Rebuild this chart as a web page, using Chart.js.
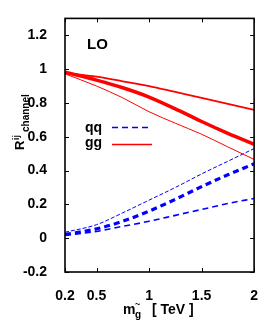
<!DOCTYPE html>
<html>
<head>
<meta charset="utf-8">
<script src="https://cdn.jsdelivr.net/npm/chart.js@4.4.1/dist/chart.umd.min.js"></script>
<style>
html, body { margin: 0; padding: 0; background: #fff; }
canvas { display: block; }
</style>
</head>
<body>
<canvas id="ratio-chart" width="266" height="335"></canvas>
<script>
// gluino mass points (TeV)
var masses = [0.2, 0.5, 0.75, 1, 1.25, 1.5, 1.75, 2];

// gg channel, three curves (upper / central / lower)
var ggUpper = [0.978, 0.955, 0.928, 0.900, 0.865, 0.830, 0.795, 0.759];
var ggCentral = [0.982, 0.935, 0.890, 0.835, 0.765, 0.690, 0.620, 0.555];
var ggLower = [0.972, 0.900, 0.830, 0.748, 0.680, 0.615, 0.540, 0.466];

// qq channel
var qqUpper = [0.035, 0.080, 0.150, 0.225, 0.300, 0.380, 0.455, 0.530];
var qqCentral = [0.022, 0.055, 0.100, 0.160, 0.230, 0.305, 0.375, 0.440];
var qqLower = [0.016, 0.040, 0.070, 0.100, 0.135, 0.170, 0.205, 0.235];

var xTicks = [0.2, 0.5, 1, 1.5, 2];
var yTicks = [-0.2, 0, 0.2, 0.4, 0.6, 0.8, 1, 1.2];

var FONT = "'Liberation Sans', Arial, sans-serif";

function pts(ys) {
    return masses.map(function (m, i) { return { x: m, y: ys[i] }; });
}

function curve(ys, color, width, dash) {
    return {
        data: pts(ys),
        borderColor: color,
        borderWidth: width,
        borderDash: dash || [],
        pointRadius: 0,
        fill: false,
        cubicInterpolationMode: 'monotone'
    };
}

// frame, inward ticks, axis titles, legend and the LO label
var decorations = {
    id: 'decorations',
    afterDraw: function (chart) {
        var ctx = chart.ctx;
        var a = chart.chartArea;
        var xs = chart.scales.x, ys = chart.scales.y;
        ctx.save();

        ctx.strokeStyle = '#000';
        ctx.lineWidth = 1;
        ctx.beginPath();
        xTicks.forEach(function (v) {
            var px = Math.round(xs.getPixelForValue(v)) + 0.5;
            ctx.moveTo(px, a.bottom); ctx.lineTo(px, a.bottom - 4);
            ctx.moveTo(px, a.top); ctx.lineTo(px, a.top + 4);
        });
        yTicks.forEach(function (v) {
            var py = Math.round(ys.getPixelForValue(v)) + 0.5;
            ctx.moveTo(a.left, py); ctx.lineTo(a.left + 4, py);
            ctx.moveTo(a.right, py); ctx.lineTo(a.right - 4, py);
        });
        ctx.stroke();

        ctx.lineWidth = 1.6;
        ctx.strokeRect(a.left, a.top, a.right - a.left, a.bottom - a.top);

        ctx.fillStyle = '#000';
        ctx.textBaseline = 'alphabetic';

        // LO
        ctx.font = 'bold 15px ' + FONT;
        ctx.textAlign = 'left';
        ctx.fillText('LO', 87, 49);

        // legend
        ctx.font = 'bold 14px ' + FONT;
        ctx.textAlign = 'right';
        ctx.fillText('qq', 102, 132);
        ctx.fillText('gg', 102, 147);
        ctx.lineWidth = 1.5;
        ctx.strokeStyle = '#0000ff';
        ctx.setLineDash([6, 4]);
        ctx.beginPath(); ctx.moveTo(112, 127.5); ctx.lineTo(152, 127.5); ctx.stroke();
        ctx.setLineDash([]);
        ctx.strokeStyle = '#ff0000';
        ctx.beginPath(); ctx.moveTo(112, 144.5); ctx.lineTo(152, 144.5); ctx.stroke();

        // x title
        ctx.textAlign = 'left';
        ctx.font = 'bold 14px ' + FONT;
        ctx.fillText('m', 123, 314);
        ctx.font = 'bold 10px ' + FONT;
        ctx.fillText('g', 135, 318);
        ctx.font = 'bold 9px ' + FONT;
        ctx.fillText('~', 135, 307);
        ctx.font = 'bold 14px ' + FONT;
        ctx.fillText('[ TeV ]', 152, 314);

        // y title
        ctx.translate(23.5, 150);
        ctx.rotate(-Math.PI / 2);
        ctx.font = 'bold 13px ' + FONT;
        ctx.fillText('R', 0, 0);
        ctx.font = 'bold 9px ' + FONT;
        ctx.fillText('ij', 10, -5);
        ctx.font = 'bold 10px ' + FONT;
        ctx.fillText('channel', 18, 5);

        ctx.restore();
    }
};

new Chart(document.getElementById('ratio-chart'), {
    type: 'line',
    data: {
        datasets: [
            curve(ggUpper, '#ff0000', 1.8),
            curve(ggCentral, '#ff0000', 3.5),
            curve(ggLower, '#ff0000', 1),
            curve(qqUpper, '#0000ff', 1, [4, 2]),
            curve(qqCentral, '#0000ff', 3.2, [6, 4]),
            curve(qqLower, '#0000ff', 1.6, [6, 4])
        ]
    },
    options: {
        responsive: false,
        animation: false,
        layout: { padding: { top: 18, right: 9, left: 0, bottom: 0 } },
        plugins: { legend: { display: false }, tooltip: { enabled: false } },
        scales: {
            x: {
                type: 'linear',
                min: 0.2,
                max: 2,
                afterBuildTicks: function (s) { s.ticks = xTicks.map(function (v) { return { value: v }; }); },
                afterFit: function (s) { s.height = 63; },
                grid: { display: false },
                border: { display: false },
                ticks: {
                    padding: 8,
                    color: '#000',
                    maxRotation: 0,
                    font: { family: FONT, size: 14, weight: 'bold' },
                    callback: function (v) { return String(v); }
                }
            },
            y: {
                type: 'linear',
                min: -0.2,
                max: 1.3,
                afterBuildTicks: function (s) { s.ticks = yTicks.map(function (v) { return { value: v }; }); },
                afterFit: function (s) { s.width = 65; },
                grid: { display: false },
                border: { display: false },
                ticks: {
                    padding: 10,
                    color: '#000',
                    font: { family: FONT, size: 14, weight: 'bold' },
                    callback: function (v) { return String(v); }
                }
            }
        }
    },
    plugins: [decorations]
});
</script>
</body>
</html>
